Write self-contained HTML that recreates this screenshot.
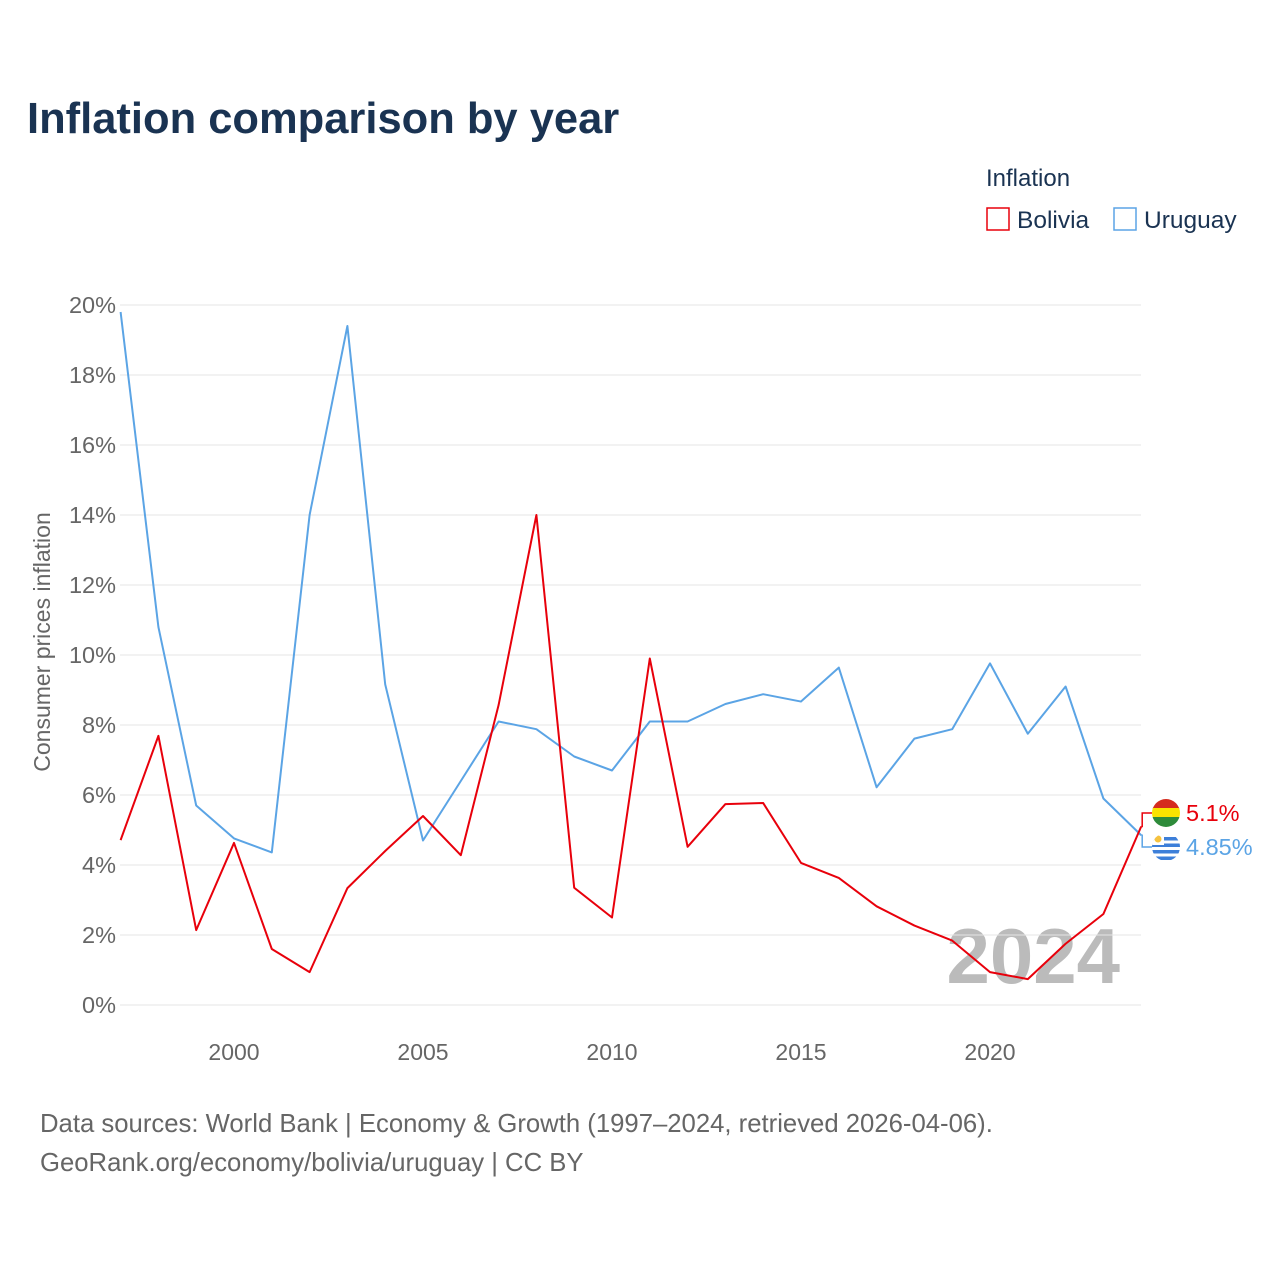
<!DOCTYPE html>
<html><head><meta charset="utf-8"><style>
html,body{margin:0;padding:0;background:#fff;}
body{width:1280px;height:1280px;overflow:hidden;font-family:"Liberation Sans",sans-serif;}
svg text{font-family:"Liberation Sans",sans-serif;}
</style></head><body>
<svg id="chart" width="1280" height="1280" xmlns="http://www.w3.org/2000/svg">
<text x="27" y="133" font-size="43.5" font-weight="bold" fill="#1a3352">Inflation comparison by year</text>
<text x="986" y="186" font-size="24" fill="#1a3352">Inflation</text>
<g><rect x="987" y="208" width="22" height="22" fill="none" stroke="#e8000b" stroke-width="1.5"/><text x="1017" y="228" font-size="24.5" fill="#1a3352">Bolivia</text></g>
<g><rect x="1114" y="208" width="22" height="22" fill="none" stroke="#5ba4e5" stroke-width="1.5"/><text x="1144" y="228" font-size="24.5" fill="#1a3352">Uruguay</text></g>
<text transform="translate(50,642) rotate(-90)" text-anchor="middle" font-size="23" fill="#666">Consumer prices inflation</text>
<text x="1120" y="983" text-anchor="end" font-size="78" font-weight="bold" fill="#bbb">2024</text>
<g id="grid"></g><g id="lines"></g>
<text x="40" y="1132" font-size="25.7" fill="#666">Data sources: World Bank | Economy &amp; Growth (1997–2024, retrieved 2026-04-06).</text>
<text x="40" y="1171" font-size="25.7" fill="#666">GeoRank.org/economy/bolivia/uruguay | CC BY</text>
</svg>
<script>
const years=[1997,1998,1999,2000,2001,2002,2003,2004,2005,2006,2007,2008,2009,2010,2011,2012,2013,2014,2015,2016,2017,2018,2019,2020,2021,2022,2023,2024];
const bolivia=[4.71,7.69,2.14,4.63,1.6,0.94,3.34,4.4,5.4,4.28,8.57,14.0,3.35,2.5,9.9,4.52,5.74,5.77,4.06,3.63,2.82,2.27,1.84,0.94,0.74,1.75,2.6,5.1];
const uruguay=[19.8,10.8,5.7,4.76,4.36,14.0,19.4,9.16,4.7,6.4,8.1,7.88,7.1,6.7,8.1,8.1,8.6,8.88,8.67,9.64,6.22,7.61,7.88,9.76,7.75,9.1,5.9,4.85];
const yTicks=[0,2,4,6,8,10,12,14,16,18,20];
const xTicks=[2000,2005,2010,2015,2020];
const NS="http://www.w3.org/2000/svg";
const X=y=>120.6+(y-1997)*37.8;
const Y=v=>1005-v*35;
const grid=document.getElementById('grid'),lines=document.getElementById('lines');
function mk(t,a,p){const e=document.createElementNS(NS,t);for(const k in a)e.setAttribute(k,a[k]);p.appendChild(e);return e;}
yTicks.forEach(v=>{
 const l=mk('line',{x1:120,x2:1141,y1:Y(v),y2:Y(v),stroke:'#e6e6e6','stroke-width':1},grid);
 
 
 const t=mk('text',{x:116,y:Y(v)+8,'text-anchor':'end','font-size':23.5,fill:'#666'},grid);
 t.textContent=v+'%';
 
 
});
xTicks.forEach(v=>{
 const t=mk('text',{x:X(v),y:1060,'text-anchor':'middle','font-size':23,fill:'#666'},grid);
 t.textContent=v;
 
 
});
function series(vals,color,name){
 const p=mk('polyline',{points:vals.map((v,i)=>X(years[i])+','+Y(v)).join(' '),fill:'none',stroke:color,'stroke-width':2,'stroke-linejoin':'round'},lines);
 
 
}
series(uruguay,'#5ba4e5','uruguay-line');
series(bolivia,'#e8000b','bolivia-line');
const lx=X(2024),bY=Y(bolivia[bolivia.length-1]),uY=Y(uruguay[uruguay.length-1]);
const cx=1166,bfy=813,ufy=847;
mk('polyline',{points:`${lx},${bY} ${lx+1},${bY} ${lx+1},${bfy} ${cx-14},${bfy}`,fill:'none',stroke:'#e8000b','stroke-width':1.5},lines);
mk('polyline',{points:`${lx},${uY} ${lx+1},${uY} ${lx+1},${ufy} ${cx-14},${ufy}`,fill:'none',stroke:'#5ba4e5','stroke-width':1.5},lines);
const fb=mk('g',{},lines);


const cb=mk('clipPath',{id:'cb'},fb);mk('circle',{cx:cx,cy:bfy,r:14},cb);
const gb=mk('g',{'clip-path':'url(#cb)'},fb);
mk('rect',{x:cx-14,y:bfy-14,width:28,height:10,fill:'#d52b1e'},gb);
mk('rect',{x:cx-14,y:bfy-5,width:28,height:10,fill:'#f9e300'},gb);
mk('rect',{x:cx-14,y:bfy+4,width:28,height:10,fill:'#2e8b3a'},gb);
const fu=mk('g',{},lines);


const cu=mk('clipPath',{id:'cu'},fu);mk('circle',{cx:cx,cy:ufy,r:14},cu);
const gu=mk('g',{'clip-path':'url(#cu)'},fu);
mk('rect',{x:cx-14,y:ufy-14,width:28,height:28,fill:'#fff'},gu);
for(let i=0;i<4;i++)mk('rect',{x:cx-14,y:ufy-10+i*6.5,width:28,height:3.5,fill:'#3d7fd9'},gu);
mk('rect',{x:cx-14,y:ufy-14,width:12,height:12,fill:'#fff'},gu);
mk('circle',{cx:cx-8,cy:ufy-8,r:3.5,fill:'#f6c23e'},gu);
const tb=mk('text',{x:1186,y:821,'font-size':23.5,fill:'#e8000b'},lines);
tb.textContent=bolivia[bolivia.length-1]+'%';


const tu=mk('text',{x:1186,y:855,'font-size':23.5,fill:'#5ba4e5'},lines);
tu.textContent=uruguay[uruguay.length-1]+'%';


</script>
</body></html>
